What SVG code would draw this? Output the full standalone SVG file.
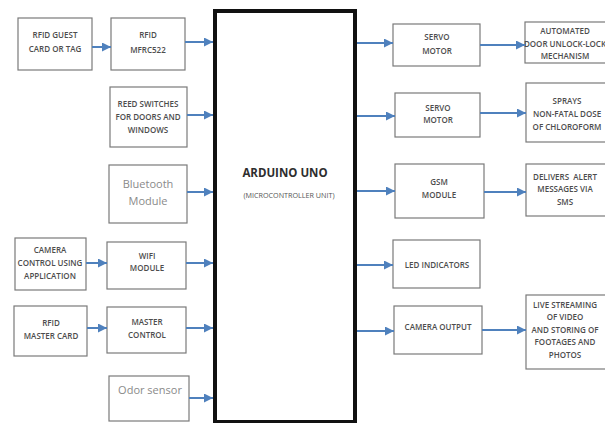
<svg xmlns="http://www.w3.org/2000/svg" width="605" height="423" viewBox="0 0 605 423">
<style>
.box{fill:#fff;stroke:#7a7a7a;stroke-width:1.2}
.t{font-family:"Open Sans","Liberation Sans",sans-serif;font-weight:600;font-size:8px;fill:#4d4d4d;text-anchor:middle}
.lt{font-family:"Open Sans","Liberation Sans",sans-serif;font-size:11px;fill:#8a8a8a;text-anchor:middle}
.c{stroke:#4f81bd;stroke-width:2;fill:none;marker-end:url(#ah)}
</style>
<defs>
<marker id="ah" viewBox="0 0 10 10" refX="10" refY="5" markerWidth="9" markerHeight="9" markerUnits="userSpaceOnUse" orient="auto">
<path d="M0,0 L10,5 L0,10 Z" fill="#4f81bd"/>
</marker>
</defs>
<rect width="605" height="423" fill="#fff"/>
<g id="arduino">
<rect x="215" y="11" width="140" height="411" fill="#fff" stroke="#111" stroke-width="4"/>
<text x="285" y="177" font-family="Open Sans,Liberation Sans,sans-serif" font-weight="700" font-size="11.5" fill="#2e2e2e" text-anchor="middle">ARDUINO UNO</text>
<text x="289" y="198" font-family="Open Sans,Liberation Sans,sans-serif" font-size="7.2" fill="#555" text-anchor="middle">(MICROCONTROLLER UNIT)</text>
</g>
<g id="rfid-guest"><rect class="box" x="18" y="18" width="74" height="52"/><text class="t" x="55" y="38">RFID GUEST</text><text class="t" x="55" y="52">CARD OR TAG</text></g>
<g id="rfid-mfrc"><rect class="box" x="111" y="18" width="74" height="52"/><text class="t" x="148" y="38">RFID</text><text class="t" x="148" y="53">MFRC522</text></g>
<g id="reed"><rect class="box" x="110" y="87" width="77" height="60"/><text class="t" x="148" y="107">REED SWITCHES</text><text class="t" x="148" y="120">FOR DOORS AND</text><text class="t" x="148" y="133">WINDOWS</text></g>
<g id="bluetooth"><rect class="box" x="109" y="165" width="78" height="58"/><text class="lt" x="148" y="188">Bluetooth</text><text class="lt" x="148" y="205">Module</text></g>
<g id="camera-control"><rect class="box" x="15" y="238" width="71" height="52"/><text class="t" x="50" y="253">CAMERA</text><text class="t" x="50" y="266">CONTROL USING</text><text class="t" x="50" y="279">APPLICATION</text></g>
<g id="wifi"><rect class="box" x="107" y="242" width="79" height="47"/><text class="t" x="147" y="259">WIFI</text><text class="t" x="147" y="271">MODULE</text></g>
<g id="rfid-master"><rect class="box" x="14" y="306" width="73" height="50"/><text class="t" x="51" y="326">RFID</text><text class="t" x="51" y="339">MASTER CARD</text></g>
<g id="master-control"><rect class="box" x="107" y="307" width="79" height="46"/><text class="t" x="147" y="325">MASTER</text><text class="t" x="147" y="338">CONTROL</text></g>
<g id="odor"><rect class="box" x="109" y="376" width="80" height="45"/><text class="lt" x="150" y="394">Odor sensor</text></g>
<g id="servo1"><rect class="box" x="393" y="24" width="87" height="42"/><text class="t" x="437" y="40">SERVO</text><text class="t" x="437" y="54">MOTOR</text></g>
<g id="door"><rect class="box" x="525" y="22" width="82" height="41"/><text class="t" x="565" y="34">AUTOMATED</text><text class="t" x="565" y="47">DOOR UNLOCK-LOCK</text><text class="t" x="565" y="59">MECHANISM</text></g>
<g id="servo2"><rect class="box" x="395" y="93" width="85" height="44"/><text class="t" x="438" y="111">SERVO</text><text class="t" x="438" y="123">MOTOR</text></g>
<g id="sprays"><rect class="box" x="526" y="83" width="81" height="59"/><text class="t" x="567" y="104">SPRAYS</text><text class="t" x="567" y="117">NON-FATAL DOSE</text><text class="t" x="567" y="130">OF CHLOROFORM</text></g>
<g id="gsm"><rect class="box" x="395" y="164" width="89" height="54"/><text class="t" x="439" y="185">GSM</text><text class="t" x="439" y="198">MODULE</text></g>
<g id="delivers"><rect class="box" x="526" y="164" width="81" height="52"/><text class="t" x="565" y="180" xml:space="preserve">DELIVERS  ALERT</text><text class="t" x="565" y="192">MESSAGES VIA</text><text class="t" x="565" y="205">SMS</text></g>
<g id="led"><rect class="box" x="393" y="240" width="87" height="48"/><text class="t" x="437" y="268">LED INDICATORS</text></g>
<g id="camera-output"><rect class="box" x="394" y="306" width="88" height="48"/><text class="t" x="438" y="330">CAMERA OUTPUT</text></g>
<g id="live"><rect class="box" x="526" y="295" width="81" height="74"/><text class="t" x="565" y="308">LIVE STREAMING</text><text class="t" x="565" y="320">OF VIDEO</text><text class="t" x="565" y="333">AND STORING OF</text><text class="t" x="565" y="345">FOOTAGES AND</text><text class="t" x="565" y="358">PHOTOS</text></g>
<g id="connectors">
<line class="c" x1="92" y1="47" x2="111" y2="47"/>
<line class="c" x1="185" y1="42" x2="213" y2="42"/>
<line class="c" x1="187" y1="115" x2="213" y2="115"/>
<line class="c" x1="187" y1="192" x2="213" y2="192"/>
<line class="c" x1="86" y1="263" x2="107" y2="263"/>
<line class="c" x1="186" y1="263" x2="213" y2="263"/>
<line class="c" x1="87" y1="328" x2="107" y2="328"/>
<line class="c" x1="186" y1="328" x2="213" y2="328"/>
<line class="c" x1="189" y1="398" x2="213" y2="398"/>
<line class="c" x1="357" y1="43" x2="393" y2="43"/>
<line class="c" x1="480" y1="45" x2="525" y2="45"/>
<line class="c" x1="357" y1="116" x2="395" y2="116"/>
<line class="c" x1="480" y1="113" x2="526" y2="113"/>
<line class="c" x1="357" y1="191" x2="395" y2="191"/>
<line class="c" x1="484" y1="192" x2="526" y2="192"/>
<line class="c" x1="357" y1="265" x2="393" y2="265"/>
<line class="c" x1="357" y1="331" x2="394" y2="331"/>
<line class="c" x1="482" y1="330" x2="526" y2="330"/>
</g>
</svg>
